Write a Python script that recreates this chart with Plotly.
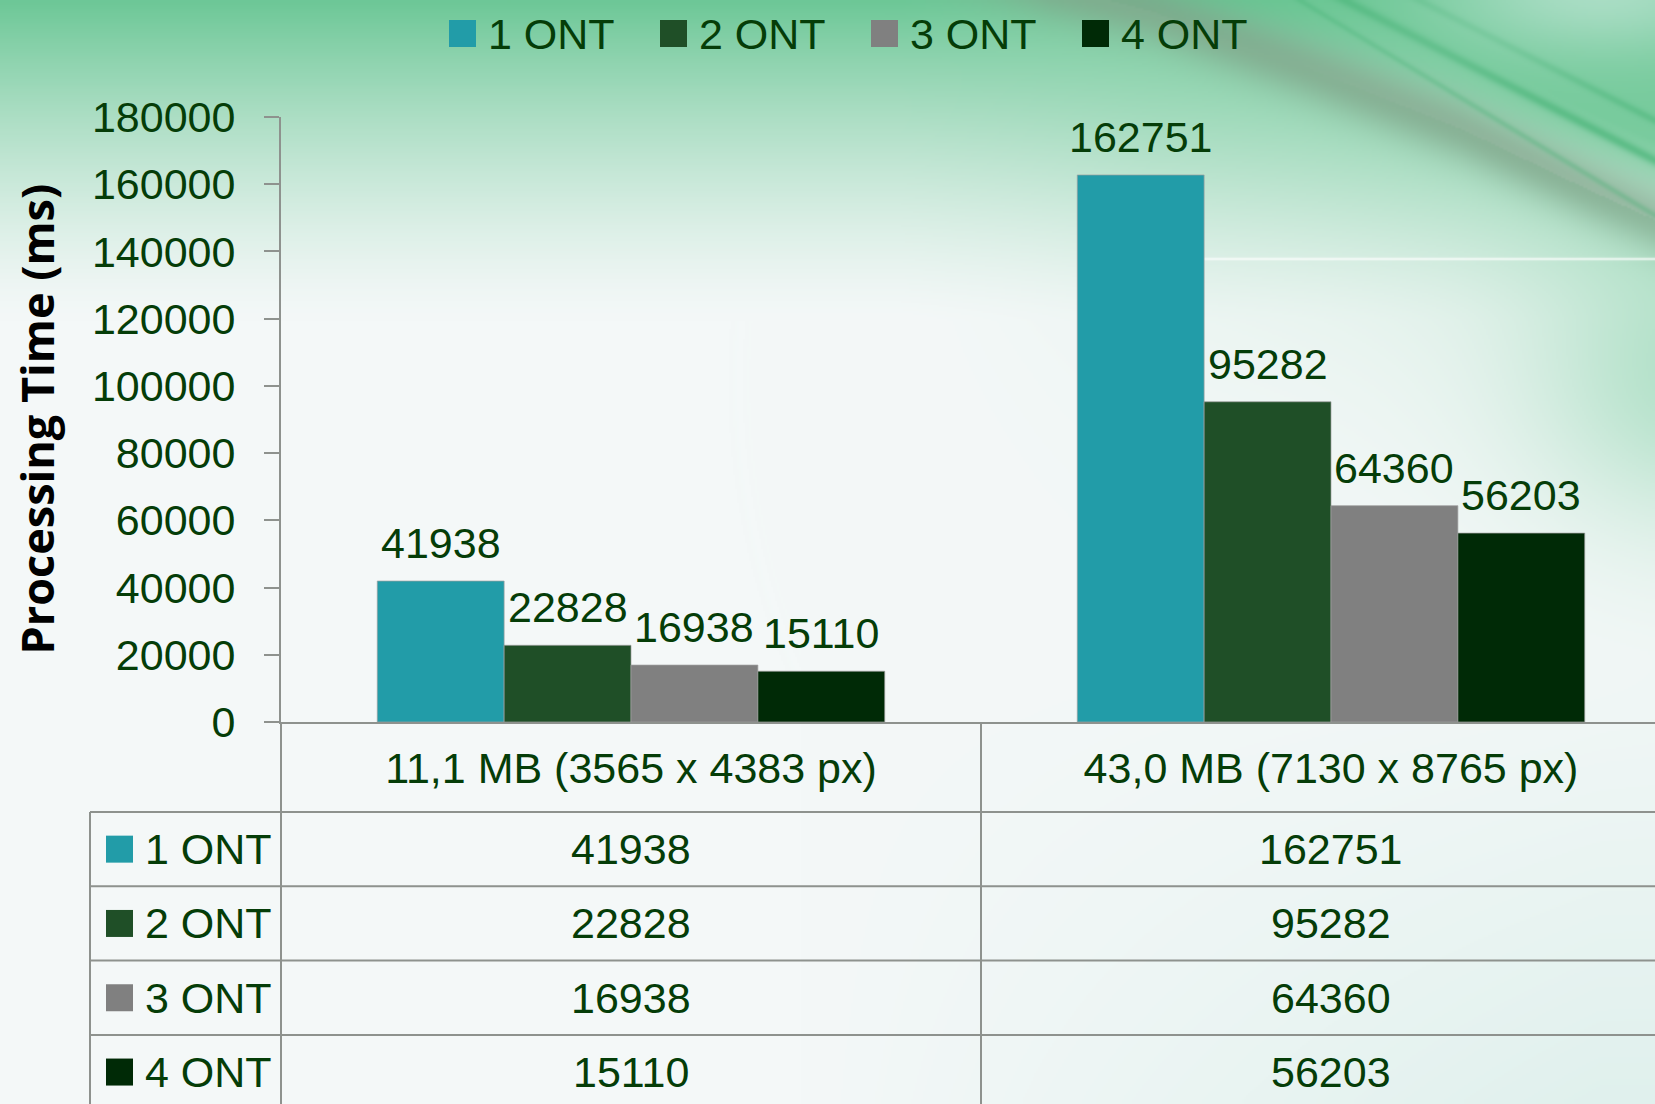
import numpy as np, zlib, struct, base64
import plotly.graph_objects as go

# ---------------- data ----------------
categories = ["11,1 MB (3565 x 4383 px)", "43,0 MB (7130 x 8765 px)"]
series_names = ["1 ONT", "2 ONT", "3 ONT", "4 ONT"]
ont1 = [41938, 162751]
ont2 = [22828, 95282]
ont3 = [16938, 64360]
ont4 = [15110, 56203]
series_values = [ont1, ont2, ont3, ont4]
y_ticks = [0, 20000, 40000, 60000, 80000, 100000, 120000, 140000, 160000, 180000]
y_title = "Processing Time (ms)"

# ---------------- style ----------------
colors = ["#229CA8", "#1F4F27", "#808080", "#002A06"]
txt_color = "#053D08"
line_color = "#8E928E"
FONT = "Liberation Sans Narrow, Arial Narrow, Liberation Sans, Arial, sans-serif"
FS = 43
BARGAP = 0.275

W, H = 1655, 1104
L, T = 281, 117
PW = W - L
PH = 605
B = H - T - PH
ZERO_Y = T + PH
CAT_W = 700.0


def pxx(p):
    return (p - L) / PW


def pxy(p):
    return (ZERO_Y - p) / PH


# ---------------- background image ----------------
def make_bg():
    Wi, Hi = 828, 552
    yy, xx = np.mgrid[0:Hi, 0:Wi].astype(float)
    X = xx * W / Wi
    Y = yy * H / Hi
    img = np.ones((Hi, Wi, 3)) * np.array([244, 248, 248], float)

    def mix(col, a):
        a = np.clip(a, 0, 1)[..., None]
        return img * (1 - a) + np.array(col, float) * a

    t = np.clip((Y - 650) / 450, 0, 1) * np.clip((X - 800) / 800, 0, 1)
    img = mix([222, 240, 236], t * 0.9)
    g = np.clip(1 - Y / 320, 0, 1) ** 1.4
    img = mix([105, 198, 148], g * 0.97)
    yc = np.interp(X, [700, 950, 1150, 1300, 1460, 1590, 1700], [-120, -40, 10, 65, 128, 190, 240])
    d = Y - yc
    above = np.clip(-d / 80, 0, 1) * np.clip((X - 950) / 200, 0, 1)
    img = mix([100, 196, 142], above * 0.75)
    halo = np.exp(-np.clip(d, 0, None) / 140) * (d > 0) * np.clip((X - 900) / 250, 0, 1)
    img = mix([140, 212, 172], halo * 0.6)
    streak = np.exp(-(d / 32) ** 2) * np.clip((X - 850) / 200, 0, 1)
    img = mix([128, 162, 136], streak * 0.7)
    # tail of swoosh at right edge
    tail = np.exp(-(((X - 1700) / 160) ** 2 + ((Y - 380) / 140) ** 2))
    img = mix([150, 215, 180], tail * 0.6)
    # sharp leaf edges
    for (x0, y0, x1, y1, w, a) in [(1345, 0, 1655, 160, 5, 0.55), (1420, 0, 1655, 120, 4, 0.4),
                                    (1300, 0, 1655, 215, 3, 0.3)]:
        dx, dy = x1 - x0, y1 - y0
        n = np.hypot(dx, dy)
        dist = np.abs((X - x0) * dy - (Y - y0) * dx) / n
        img = mix([60, 175, 110], np.exp(-(dist / w) ** 2) * a)
    # top-right lighter corner
    c = np.exp(-(((X - 1600) / 180) ** 2 + ((Y + 10) / 70) ** 2))
    img = mix([215, 238, 232], c * 0.6)
    # thin white line
    wl = np.exp(-((Y - 258) / 1.2) ** 2) * np.clip((X - 1150) / 60, 0, 1)
    img = mix([255, 255, 255], wl * 0.8)
    arr = np.clip(img, 0, 255).astype(np.uint8)
    raw = b"".join(b"\x00" + arr[i].tobytes() for i in range(Hi))

    def chunk(tag, data):
        return struct.pack(">I", len(data)) + tag + data + struct.pack(">I", zlib.crc32(tag + data) & 0xffffffff)

    png = b"\x89PNG\r\n\x1a\n" + chunk(b"IHDR", struct.pack(">IIBBBBB", Wi, Hi, 8, 2, 0, 0, 0)) + \
        chunk(b"IDAT", zlib.compress(raw, 9)) + chunk(b"IEND", b"")
    return "data:image/png;base64," + base64.b64encode(png).decode()


fig = go.Figure()
n_series = len(series_names)
bw = (1 - BARGAP) / n_series
annotations = []
for i, (name, vals, col) in enumerate(zip(series_names, series_values, colors)):
    fig.add_trace(go.Bar(
        x=categories, y=vals, name=name,
        marker=dict(color=col, line=dict(color="rgba(160,160,160,0.7)", width=1)),
        showlegend=False,
    ))
    # data labels above bars (positioned via the axis scale)
    for ci, v in enumerate(vals):
        annotations.append(dict(text=str(v), xref="x", yref="y", x=ci + (i - (n_series - 1) / 2) * bw, y=v,
                                xanchor="center", yanchor="bottom", yshift=12, showarrow=False,
                                font=dict(family=FONT, size=FS, color=txt_color)))

shapes = []

# top legend (manual, large swatches)
for i, (name, col) in enumerate(zip(series_names, colors)):
    x0 = 449 + 211 * i
    shapes.append(dict(type="rect", xref="paper", yref="paper",
                       x0=pxx(x0), x1=pxx(x0 + 27), y0=pxy(47), y1=pxy(20),
                       fillcolor=col, line=dict(width=0)))
    annotations.append(dict(text=name, xref="paper", yref="paper", x=pxx(x0 + 37), y=pxy(34),
                            xanchor="left", yanchor="middle", showarrow=False,
                            font=dict(family=FONT, size=FS, color=txt_color)))

# table grid
row_top = 812
row_h = 74.3
lw = 2
for k in range(4):
    yl = row_top + row_h * k
    shapes.append(dict(type="line", xref="paper", yref="paper", x0=pxx(90), x1=pxx(W + 5),
                       y0=pxy(yl), y1=pxy(yl), line=dict(color=line_color, width=lw)))
shapes.append(dict(type="line", xref="paper", yref="paper", x0=pxx(90), x1=pxx(90),
                   y0=pxy(row_top), y1=pxy(H + 5), line=dict(color=line_color, width=lw)))
shapes.append(dict(type="line", xref="paper", yref="paper", x0=0, x1=0,
                   y0=0, y1=pxy(H + 5), line=dict(color=line_color, width=lw)))
shapes.append(dict(type="line", xref="x", yref="paper", x0=0.5, x1=0.5,
                   y0=0, y1=pxy(H + 5), line=dict(color=line_color, width=lw)))

for i, (name, vals, col) in enumerate(zip(series_names, series_values, colors)):
    yc = row_top + row_h * i + row_h / 2
    shapes.append(dict(type="rect", xref="paper", yref="paper",
                       x0=pxx(106), x1=pxx(133), y0=pxy(yc + 13.5), y1=pxy(yc - 13.5),
                       fillcolor=col, line=dict(width=0)))
    annotations.append(dict(text=name, xref="paper", yref="paper", x=pxx(143), y=pxy(yc),
                            xanchor="left", yanchor="middle", showarrow=False,
                            font=dict(family=FONT, size=FS, color=txt_color)))
    for c, v in zip(categories, vals):
        annotations.append(dict(text=str(v), xref="x", yref="paper", x=c, y=pxy(yc),
                                xanchor="center", yanchor="middle", showarrow=False,
                                font=dict(family=FONT, size=FS, color=txt_color)))

annotations.append(dict(text=y_title, xref="paper", yref="paper", x=pxx(36), y=0.5,
                        xanchor="center", yanchor="middle", textangle=-90, showarrow=False,
                        font=dict(family="Open Sans, sans-serif", size=45,
                                  color="black", weight="bold")))

fig.update_layout(
    width=W, height=H,
    margin=dict(l=L, r=0, t=T, b=B, pad=0),
    paper_bgcolor="#F3F7F7", plot_bgcolor="rgba(0,0,0,0)",
    barmode="group", bargap=BARGAP, bargroupgap=0,
    font=dict(family=FONT, size=FS, color=txt_color),
    shapes=shapes, annotations=annotations,
    images=[dict(source=make_bg(), xref="paper", yref="paper",
                 x=-L / PW, y=1 + T / PH, sizex=W / PW, sizey=H / PH,
                 xanchor="left", yanchor="top", sizing="stretch", layer="below")],
    xaxis=dict(range=[-0.5, -0.5 + PW / CAT_W], showgrid=False, zeroline=False,
               showline=True, linecolor=line_color, linewidth=lw, ticks="",
               tickfont=dict(family=FONT, size=FS, color=txt_color), ticklabelstandoff=7,
               fixedrange=True),
    yaxis=dict(range=[0, 180000], tickvals=y_ticks, tickformat="d", showgrid=False,
               zeroline=False, showline=True, linecolor=line_color, linewidth=lw,
               ticks="outside", ticklen=15, tickwidth=lw, tickcolor=line_color,
               tickfont=dict(family=FONT, size=FS, color=txt_color), ticklabelstandoff=20,
               fixedrange=True),
)

fig.write_html("out.html", config={"displayModeBar": False},
               post_script="document.body.style.margin='0px';")
